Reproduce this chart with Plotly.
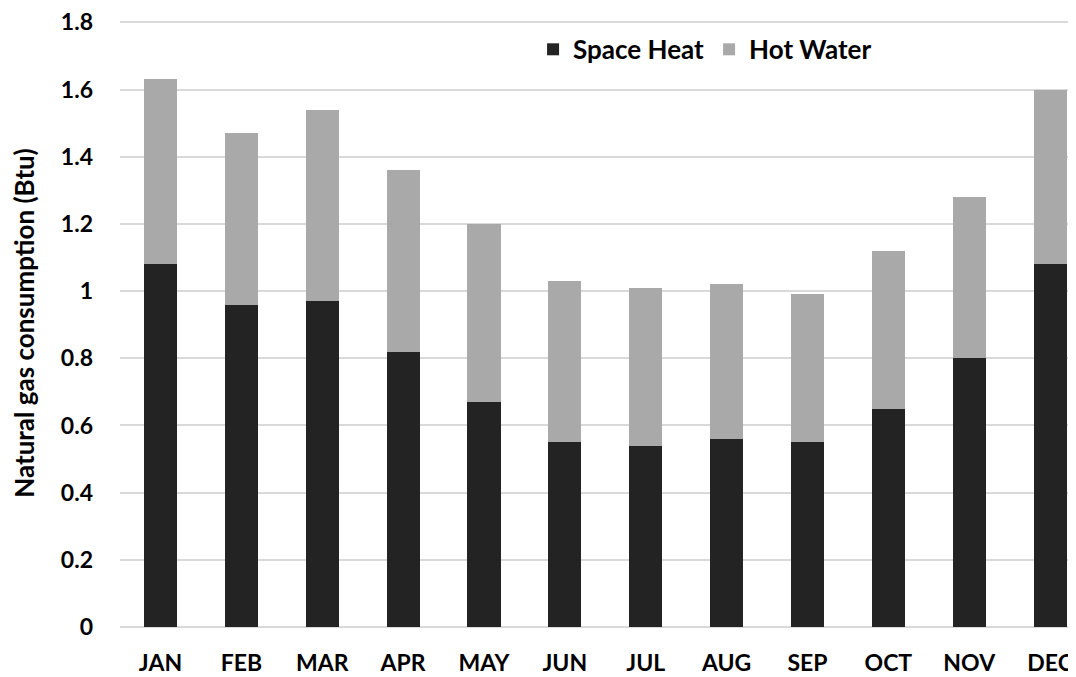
import plotly.graph_objects as go

months = ["JAN", "FEB", "MAR", "APR", "MAY", "JUN", "JUL", "AUG", "SEP", "OCT", "NOV", "DEC"]
space_heat = [1.08, 0.96, 0.97, 0.82, 0.67, 0.55, 0.54, 0.56, 0.55, 0.65, 0.80, 1.08]
totals = [1.63, 1.47, 1.54, 1.36, 1.20, 1.03, 1.01, 1.02, 0.99, 1.12, 1.28, 1.60]
hot_water = [round(t - s, 3) for t, s in zip(totals, space_heat)]
y_ticks = [0, 0.2, 0.4, 0.6, 0.8, 1, 1.2, 1.4, 1.6, 1.8]
y_tick_text = ["0", "0.2", "0.4", "0.6", "0.8", "1", "1.2", "1.4", "1.6", "1.8"]

FONT = "Lato"

fig = go.Figure()
fig.add_trace(go.Bar(x=months, y=space_heat, name="Space Heat",
                     marker=dict(color="#232323", line=dict(width=0)), width=0.41))
fig.add_trace(go.Bar(x=months, y=hot_water, name="Hot Water",
                     marker=dict(color="#a9a9a9", line=dict(width=0)), width=0.41))

# page body has an 8px margin, so figure is sized 8px smaller and offsets are compensated
fig.update_layout(
    barmode="stack",
    width=1068, height=669,
    margin=dict(l=112, r=0, t=11, b=50),
    plot_bgcolor="white", paper_bgcolor="white",
    font=dict(family=FONT, size=23, color="#000000"),
    showlegend=True,
    legend=dict(orientation="h", x=0.612, y=0.950, xanchor="center", yanchor="middle",
                font=dict(family=FONT, size=26, color="#000000", weight="bold"),
                bgcolor="rgba(0,0,0,0)", traceorder="normal", itemwidth=30),
    xaxis=dict(range=[-0.5, 11.32], showgrid=False, showline=False, zeroline=False,
               ticks="", ticklabeloverflow="allow",
               tickfont=dict(family=FONT, size=23, weight="bold"),
               ticklabelstandoff=20),
    yaxis=dict(range=[0, 1.81], tickvals=y_ticks, ticktext=y_tick_text,
               showgrid=True, gridcolor="#d9d9d9", gridwidth=2,
               zeroline=True, zerolinecolor="#d9d9d9", zerolinewidth=2,
               showline=False, ticks="", ticklabeloverflow="allow",
               tickfont=dict(family=FONT, size=23, weight="bold"),
               ticklabelstandoff=26,
               title=dict(text="Natural gas consumption (Btu)",
                          font=dict(family=FONT, size=26, weight="bold"), standoff=29)),
)

fig.write_html("out.html")
